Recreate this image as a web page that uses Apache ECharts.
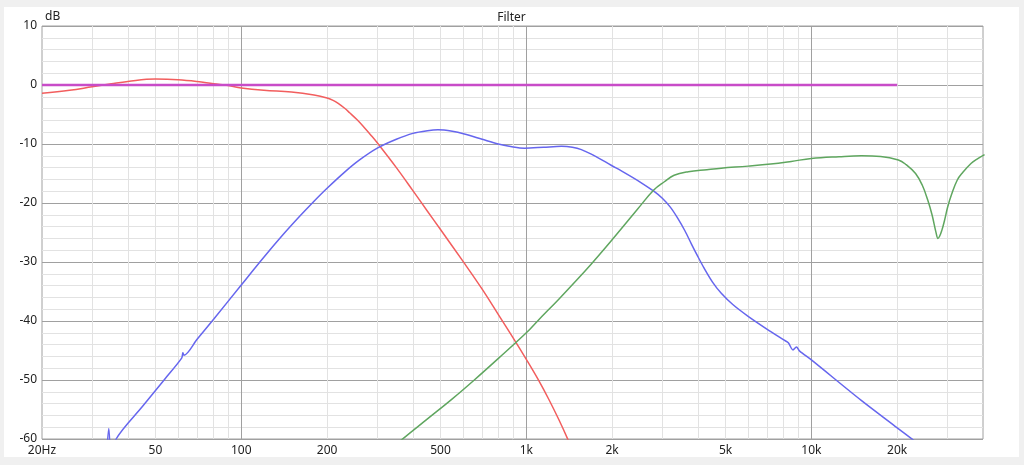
<!DOCTYPE html>
<html>
<head>
<meta charset="utf-8">
<script src="https://cdn.jsdelivr.net/npm/echarts@6/dist/echarts.min.js"></script>
<style>
html,body{margin:0;padding:0;background:#f0f0f0;width:1024px;height:465px;overflow:hidden;}
#c{position:absolute;left:4px;top:7px;width:1015px;height:450px;background:#ffffff;}
</style>
</head>
<body>
<div id="c"></div>
<script>
// ---- data ----
const xLabelValues = [20, 50, 100, 200, 500, 1000, 2000, 5000, 10000, 20000];
const xMajorGrid = [100, 1000, 10000];
const xMinorGrid = [30, 40, 50, 60, 70, 80, 90, 200, 300, 400, 500, 600, 700, 800, 900,
  2000, 3000, 4000, 5000, 6000, 7000, 8000, 9000, 20000, 30000];

const redFreq = [20, 25, 30, 35, 40, 50, 60, 70, 80, 90, 100, 120, 150, 180, 200, 210, 220, 230, 240, 255, 270, 285, 300, 350, 400, 450, 500, 600, 700, 800, 900, 1000, 1100, 1200, 1300, 1400, 1500];
const redDb   = [-1.4, -0.9, -0.3, 0.2, 0.6, 1.0, 0.9, 0.6, 0.2, -0.1, -0.5, -0.9, -1.2, -1.7, -2.2, -2.6, -3.2, -3.9, -4.7, -5.9, -7.2, -8.5, -9.8, -14.0, -17.9, -21.4, -24.5, -29.9, -34.6, -39.0, -42.9, -46.5, -49.9, -53.3, -56.7, -60.1, -63.5];

const blueFreq = [33.6, 34.3, 35, 36.4, 45, 53.8, 61.8, 62.4, 63.0, 70, 80, 100, 120, 140, 160, 180, 200, 230, 260, 300, 350, 400, 450, 490, 550, 606, 700, 797, 900, 985, 1150, 1328, 1450, 1560, 1750, 1984, 2200, 2500, 2800, 3000, 3200, 3400, 3600, 3800, 4000, 4200, 4500, 4830, 5300, 6000, 7000, 8000, 8300, 8620, 8860, 9100, 10000, 15000, 20000, 22800, 25000];
const blueDb   = [-64, -58.2, -64, -60, -54.5, -49.9, -46.3, -45.4, -45.8, -43.1, -39.7, -33.9, -29.2, -25.4, -22.3, -19.7, -17.5, -14.8, -12.7, -10.7, -9.2, -8.2, -7.75, -7.6, -7.85, -8.3, -9.2, -10.0, -10.5, -10.7, -10.55, -10.4, -10.55, -10.95, -12.1, -13.6, -14.8, -16.4, -18.0, -19.2, -20.7, -22.6, -24.7, -27.0, -29.1, -31.0, -33.4, -35.3, -37.2, -39.2, -41.4, -43.2, -43.7, -44.9, -44.4, -45.1, -46.6, -53.5, -58.1, -60.2, -62];

const greenFreq = [300, 364, 450, 550, 657, 800, 1000, 1100, 1300, 1500, 1700, 1900, 2150, 2450, 2800, 3050, 3300, 3700, 4300, 4830, 6000, 7200, 8500, 10000, 12500, 15000, 17500, 20200, 21500, 23200, 24500, 25600, 26500, 27400, 27800, 28200, 28700, 29300, 30100, 31000, 32500, 34000, 36300, 38000, 40500];
const greenDb   = [-63.8, -60.2, -56.6, -53.2, -50, -46.3, -42, -39.9, -36.3, -33.1, -30.2, -27.5, -24.4, -21.1, -17.8, -16.4, -15.3, -14.7, -14.35, -14.1, -13.75, -13.4, -12.95, -12.45, -12.15, -12.0, -12.1, -12.7, -13.5, -15.0, -17.0, -19.5, -22.0, -25.1, -26, -25.6, -24.6, -23.0, -20.6, -18.6, -16.1, -14.8, -13.3, -12.6, -11.8];

const flatFreq = [20, 20000];
const flatDb   = [0, 0];

function pairs(f, d) { return f.map((v, i) => [v, d[i]]); }

const FONT = 'Noto Sans';
const chart = echarts.init(document.getElementById('c'));
const baseX = {
  type: 'log', logBase: 10, min: 20, max: 40000, position: 'bottom',
  axisLine: { show: false }
};
chart.setOption({
  animation: false,
  title: {
    text: 'Filter', left: 'center', top: 0,
    textStyle: { fontFamily: FONT, fontSize: 12, fontWeight: 'normal', color: '#222' }
  },
  grid: { left: 38, right: 36, top: 19, bottom: 18, show: true, borderColor: '#a0a0a0', borderWidth: 1, backgroundColor: 'transparent' },
  xAxis: [
    Object.assign({}, baseX, {
      axisTick: { show: false, customValues: xMinorGrid },
      splitLine: { show: true, lineStyle: { color: '#e2e2e2', width: 1 } },
      axisLabel: { show: false }
    }),
    Object.assign({}, baseX, {
      axisTick: { show: false, customValues: xMajorGrid },
      splitLine: { show: true, lineStyle: { color: '#a0a0a0', width: 1 } },
      axisLabel: {
        show: true, customValues: xLabelValues, margin: 6,
        fontFamily: FONT, fontSize: 12, color: '#222',
        formatter: function (v) {
          if (Math.abs(v - 20) < 1e-6) return '20Hz';
          if (v >= 1000) return (v / 1000) + 'k';
          return String(v);
        }
      }
    })
  ],
  yAxis: {
    type: 'value', min: -60, max: 10, interval: 10,
    name: 'dB', nameLocation: 'end', nameGap: 3,
    nameTextStyle: { align: 'left', fontFamily: FONT, fontSize: 12, color: '#222', padding: [0, 0, 0, 3] },
    axisLine: { show: false }, axisTick: { show: false },
    axisLabel: { fontFamily: FONT, fontSize: 12, color: '#222', margin: 5 },
    splitLine: { show: true, lineStyle: { color: '#a0a0a0', width: 1 } },
    minorTick: { show: false, splitNumber: 5 },
    minorSplitLine: { show: true, lineStyle: { color: '#e2e2e2', width: 1 } }
  },
  series: [
    { type: 'line', name: 'low', xAxisIndex: 1, data: pairs(redFreq, redDb), showSymbol: false, smooth: 0.4, clip: true,
      lineStyle: { color: '#f25e5e', width: 1.5 } },
    { type: 'line', name: 'mid', xAxisIndex: 1, data: pairs(blueFreq, blueDb), showSymbol: false, smooth: 0.3, clip: true,
      lineStyle: { color: '#6666ee', width: 1.5 } },
    { type: 'line', name: 'high', xAxisIndex: 1, data: pairs(greenFreq, greenDb), showSymbol: false, smooth: 0.4, clip: true,
      lineStyle: { color: '#5fa65f', width: 1.5 } },
    { type: 'line', name: 'flat', xAxisIndex: 1, data: pairs(flatFreq, flatDb), showSymbol: false, clip: true,
      lineStyle: { color: '#c84cc8', width: 2.5 } }
  ]
});
</script>
</body>
</html>
